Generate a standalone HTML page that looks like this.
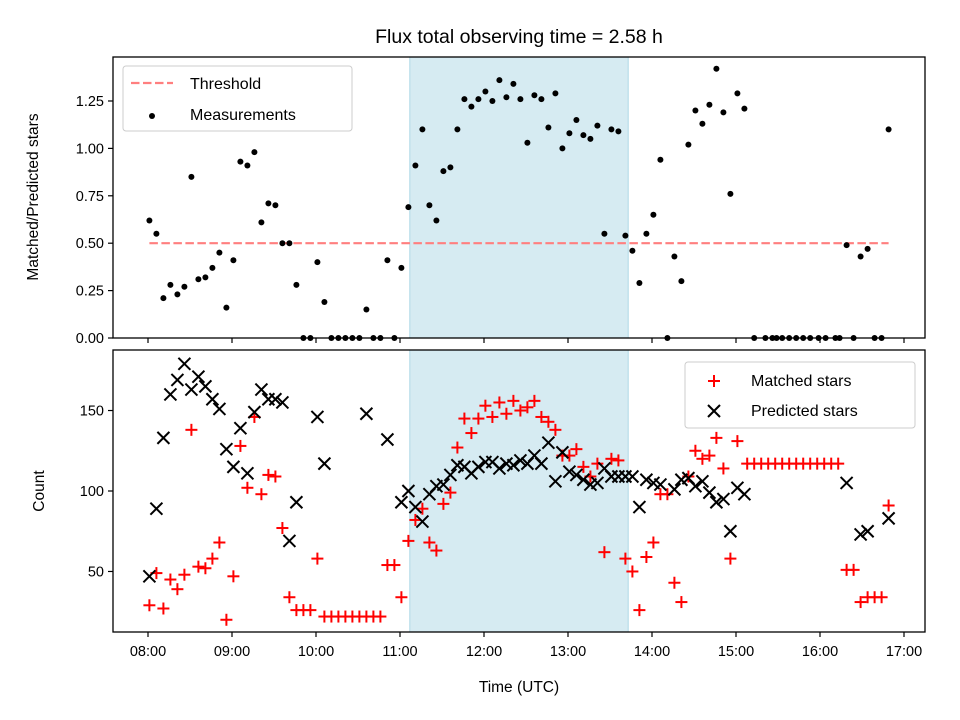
<!DOCTYPE html>
<html><head><meta charset="utf-8"><style>
html,body{margin:0;padding:0;background:#fff}
svg{display:block;font-family:"Liberation Sans","DejaVu Sans",sans-serif}
</style></head><body>
<svg id="fig" width="960" height="720" viewBox="0 0 960 720"></svg>
<script>
// ---- data (minutes after 08:00 UTC) ----
const xTickLabels = ["08:00","09:00","10:00","11:00","12:00","13:00","14:00","15:00","16:00","17:00"];
const topTickLabels = ["0.00","0.25","0.50","0.75","1.00","1.25"];
const botTickLabels = ["50","100","150"];
const shadeStartMin = 187, shadeEndMin = 343;
const thresholdValue = 0.5, thresholdStartMin = 1, thresholdEndMin = 529;
const measMin = [1,6,11,16,21,26,31,36,41,46,51,56,61,66,71,76,81,86,91,96,101,106,111,116,121,126,131,136,141,146,151,156,161,166,171,176,181,186,191,196,201,206,211,216,221,226,231,236,241,246,251,256,261,266,271,276,281,286,291,296,301,306,311,316,321,326,331,336,341,346,351,356,361,366,371,376,381,386,391,396,401,406,411,416,421,426,433,441,446,449,453,458,463,468,473,479,484,491,494,499,504,509,514,519,524,529];
const measVal = [.62,.55,.21,.28,.23,.27,.85,.31,.32,.37,.45,.16,.41,.93,.91,.98,.61,.71,.70,.50,.50,.28,0,0,.40,.19,0,0,0,0,0,.15,0,0,.41,0,.37,.69,.91,1.10,.70,.62,.88,.90,1.10,1.26,1.22,1.26,1.30,1.25,1.36,1.27,1.34,1.26,1.03,1.28,1.26,1.11,1.29,1.00,1.08,1.15,1.07,1.05,1.12,.55,1.10,1.09,.54,.46,.29,.55,.65,.94,0,.43,.30,1.02,1.20,1.13,1.23,1.42,1.19,.76,1.29,1.21,0,0,0,0,0,0,0,0,0,0,0,0,0,.49,0,.43,.47,0,0,1.10];
const matchedMin = [1,6,11,16,21,26,31,36,41,46,51,56,61,66,71,76,81,86,91,96,101,106,111,116,121,126,131,136,141,146,151,156,161,166,171,176,181,186,191,196,201,206,211,216,221,226,231,236,241,246,251,256,261,266,271,276,281,286,291,296,301,306,311,316,321,326,331,336,341,346,351,356,361,366,371,376,381,386,391,396,401,406,411,416,421,428,433,438,443,448,453,458,463,468,473,478,483,488,493,499,504,509,514,519,524,529];
const matchedVal = [29,49,27,45,39,48,138,53,52,58,68,20,47,128,102,146,98,110,109,77,34,26,26,26,58,22,22,22,22,22,22,22,22,22,54,54,34,69,82,89,68,63,92,99,127,145,136,145,153,146,155,148,156,150,152,156,146,143,138,122,122,126,115,109,117,62,120,119,58,50,26,59,68,98,98,43,31,109,125,120,122,133,114,58,131,117,117,117,117,117,117,117,117,117,117,117,117,117,117,51,51,31,34,34,34,91];
const predMin = [1,6,11,16,21,26,31,36,41,46,51,56,61,66,71,76,81,86,91,96,101,106,121,126,156,171,181,186,191,196,201,206,211,216,221,226,231,236,241,246,251,256,261,266,271,276,281,286,291,296,301,306,311,316,321,326,331,336,341,346,351,356,361,366,376,381,386,391,396,401,406,411,416,421,426,499,509,514,529];
const predVal = [47,89,133,160,169,179,163,171,165,157,151,126,115,139,111,149,163,157,157,155,69,93,146,117,148,132,93,100,90,81,98,103,104,110,116,115,111,115,118,118,114,117,116,119,117,122,117,130,106,124,112,110,107,104,105,114,109,109,109,109,90,107,105,104,101,107,108,103,106,99,93,95,75,102,98,105,73,75,83];

// ---- layout ----
const L=113,R=925,T1=57,B1=338,T2=350,B2=632;
const NS="http://www.w3.org/2000/svg";
const svg=document.getElementById('fig');
function el(tag,attrs,parent){const e=document.createElementNS(NS,tag);for(const k in attrs)e.setAttribute(k,attrs[k]);(parent||svg).appendChild(e);return e;}
const xMin=-25, xMax=555; // minutes
function xs(m){return L+(m-xMin)/(xMax-xMin)*(R-L);}
const yTopMin=0, yTopMax=1.482;
function y1(v){return B1-(v-yTopMin)/(yTopMax-yTopMin)*(B1-T1);}
const yBotMin=12.4, yBotMax=187.6;
function y2(v){return B2-(v-yBotMin)/(yBotMax-yBotMin)*(B2-T2);}

// title
const title=el('text',{x:519,y:43,'text-anchor':'middle','font-size':'19.5',fill:'#000'});
title.textContent="Flux total observing time = 2.58 h";



// shading
[[T1,B1,'top-shade'],[T2,B2,'bottom-shade']].forEach(([t,b,n])=>{
  const r=el('rect',{x:xs(shadeStartMin),y:t,width:xs(shadeEndMin)-xs(shadeStartMin),height:b-t,fill:'#add8e6','fill-opacity':'0.5',stroke:'#add8e6','stroke-width':1});
  
  
});

// threshold
const th=el('line',{x1:xs(thresholdStartMin),x2:xs(thresholdEndMin),y1:y1(thresholdValue),y2:y1(thresholdValue),stroke:'#ff7f7f','stroke-width':2.2,'stroke-dasharray':'8.5,3.5'});



// measurements
measMin.forEach((m,i)=>{
  const c=el('circle',{cx:xs(m),cy:y1(measVal[i]),r:3,fill:'#000'});
  
  
});

function plus(cx,cy,s,col,parent){const g=el('g',{},parent);el('line',{x1:cx-s,x2:cx+s,y1:cy,y2:cy,stroke:col,'stroke-width':2},g);el('line',{x1:cx,x2:cx,y1:cy-s,y2:cy+s,stroke:col,'stroke-width':2},g);return g;}
function cross(cx,cy,s,col,parent){const g=el('g',{},parent);el('line',{x1:cx-s,x2:cx+s,y1:cy-s,y2:cy+s,stroke:col,'stroke-width':2},g);el('line',{x1:cx-s,x2:cx+s,y1:cy+s,y2:cy-s,stroke:col,'stroke-width':2},g);return g;}
matchedMin.forEach((m,i)=>{
  const g=plus(xs(m),y2(matchedVal[i]),6,'#ff0000');
  
  
});
predMin.forEach((m,i)=>{
  const g=cross(xs(m),y2(predVal[i]),6,'#000');
  
  
});

// axes frames
[[T1,B1,'top-axes-frame'],[T2,B2,'bottom-axes-frame']].forEach(([t,b,n])=>{
  const r=el('rect',{x:L,y:t,width:R-L,height:b-t,fill:'none',stroke:'#000','stroke-width':1.3});
  
  
});

// x ticks
xTickLabels.forEach((lab,i)=>{
  const x=xs(i*60);
  el('line',{x1:x,x2:x,y1:B1,y2:B1+5,stroke:'#000','stroke-width':1.2});
  el('line',{x1:x,x2:x,y1:B2,y2:B2+5,stroke:'#000','stroke-width':1.2});
  const t=el('text',{x:x,y:B2+24,'text-anchor':'middle','font-size':'14.5',fill:'#000'});
  t.textContent=lab;
  
  
});
topTickLabels.forEach(lab=>{
  const y=y1(parseFloat(lab));
  el('line',{x1:L-5,x2:L,y1:y,y2:y,stroke:'#000','stroke-width':1.2});
  const t=el('text',{x:L-9,y:y+5,'text-anchor':'end','font-size':'14.5',fill:'#000'});
  t.textContent=lab;
  
  
});
botTickLabels.forEach(lab=>{
  const y=y2(parseFloat(lab));
  el('line',{x1:L-5,x2:L,y1:y,y2:y,stroke:'#000','stroke-width':1.2});
  const t=el('text',{x:L-9,y:y+5,'text-anchor':'end','font-size':'14.5',fill:'#000'});
  t.textContent=lab;
  
  
});

// axis titles
const xl=el('text',{x:519,y:692,'text-anchor':'middle','font-size':'15.5',fill:'#000'});
xl.textContent="Time (UTC)";


const yl1=el('text',{x:0,y:0,'text-anchor':'middle','font-size':'15.5',fill:'#000',transform:'translate(38,197) rotate(-90)'});
yl1.textContent="Matched/Predicted stars";


const yl2=el('text',{x:0,y:0,'text-anchor':'middle','font-size':'15.5',fill:'#000',transform:'translate(44,491) rotate(-90)'});
yl2.textContent="Count";



// legends
const lg1=el('g',{});


el('rect',{x:123,y:66,width:229,height:65,rx:3,fill:'#fff','fill-opacity':0.8,stroke:'#ccc','stroke-width':1},lg1);
el('line',{x1:131,x2:173,y1:83,y2:83,stroke:'#ff7f7f','stroke-width':2.2,'stroke-dasharray':'8.5,3.5'},lg1);
let t=el('text',{x:190,y:89,'font-size':'16',fill:'#000'},lg1);t.textContent="Threshold";
el('circle',{cx:152,cy:116,r:3,fill:'#000'},lg1);
t=el('text',{x:190,y:120,'font-size':'16',fill:'#000'},lg1);t.textContent="Measurements";

const lg2=el('g',{});


el('rect',{x:685,y:362,width:230,height:66,rx:3,fill:'#fff','fill-opacity':0.8,stroke:'#ccc','stroke-width':1},lg2);
plus(714,381,6,'#ff0000',lg2);
t=el('text',{x:751,y:386,'font-size':'16',fill:'#000'},lg2);t.textContent="Matched stars";
cross(714,411,6,'#000',lg2);
t=el('text',{x:751,y:416,'font-size':'16',fill:'#000'},lg2);t.textContent="Predicted stars";
</script>
</body></html>
